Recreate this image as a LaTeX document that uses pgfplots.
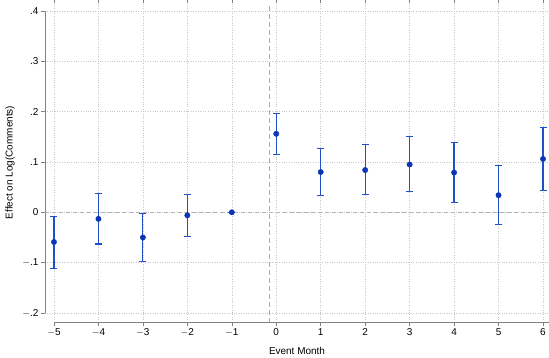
\documentclass[border=0pt]{standalone}
\usepackage{pgfplots}
\pgfplotsset{compat=1.18}
\usepackage{fontspec}
\setmainfont{Liberation Sans}
\definecolor{mk}{RGB}{11,53,181}
\definecolor{eb}{RGB}{32,80,200}
\definecolor{rl}{RGB}{244,140,140}
\definecolor{gl}{RGB}{200,200,200}
\definecolor{ax}{RGB}{130,130,130}
\begin{document}
\begin{tikzpicture}
\pgfresetboundingbox
\begin{axis}[
  name=ax,
  scale only axis,
  width=504bp, height=319bp,
  xmin=-5.202, xmax=6.135,
  ymin=-0.218, ymax=0.416,
  axis line style={draw=none},
  xtick={-5,...,6},
  xticklabels={$-$5,$-$4,$-$3,$-$2,$-$1,0,1,2,3,4,5,6},
  ytick={-0.2,-0.1,0,0.1,0.2,0.3,0.4},
  yticklabels={$-$.2,$-$.1,0,.1,.2,.3,.4},
  tick align=outside,
  tick style={draw=ax, line width=0.5pt},
  major tick length=4bp,
  tick label style={font=\fontsize{10}{11}\selectfont},
  xticklabel style={yshift=1bp},
  yticklabel style={xshift=1bp},
  grid=major,
  major grid style={draw=gl, dotted, line width=0.5pt},
  xlabel={Event Month},
  ylabel={Effect on Log(Comments)},
  label style={font=\fontsize{10}{12}\selectfont},
  xlabel style={yshift=-4bp},
  ylabel style={yshift=1bp},
  clip=false,
]
\addplot[draw=ax, line width=0.6pt, forget plot] coordinates {(-5,-0.218) (6.135,-0.218)};
\addplot[draw=ax, line width=0.6pt, forget plot] coordinates {(-5.202,-0.2) (-5.202,0.4)};
\addplot[draw=black!30, dash pattern=on 4bp off 3bp, line width=0.7pt, forget plot] coordinates {(-5.202,0) (6.135,0)};
\addplot[color=rl, solid, dash pattern=on 5bp off 3bp, line width=1.3pt, mark=none, forget plot] coordinates {(-0.15,0.41) (-0.15,-0.218)};
\addplot[only marks, mark=*, mark size=2.7bp, mark options={draw=mk, fill=mk},
  error bars/.cd, y dir=both, y explicit,
  error bar style={color=eb, line width=1.2pt},
  error mark options={color=eb, line width=1.2pt, rotate=90, mark size=3.5bp}]
  table[x=x, y=y, y error plus=ep, y error minus=em] {
x  y      ep     em
-5 -0.059 0.051 0.052
-4 -0.013 0.050 0.050
-3 -0.050 0.047 0.047
-2 -0.006 0.041 0.042
-1  0.000 0.000 0.000
0   0.156 0.041 0.041
1   0.080 0.047 0.047
2   0.084 0.050 0.049
3   0.095 0.055 0.053
4   0.079 0.059 0.060
5   0.034 0.059 0.058
6   0.106 0.062 0.062
};
\end{axis}
\pgfresetboundingbox
\path[use as bounding box] ([xshift=-45bp,yshift=-36bp]ax.south west) rectangle ([yshift=3bp]ax.north east);
\end{tikzpicture}
\end{document}
